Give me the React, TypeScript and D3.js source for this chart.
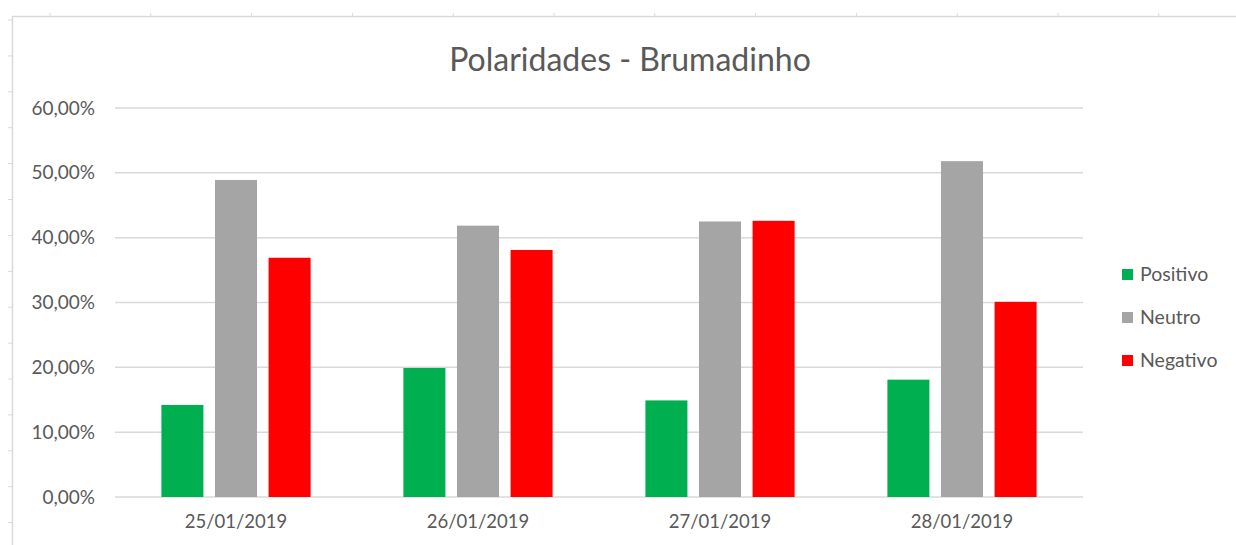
import React from "react";
import * as d3 from "d3";

const categories = ["25/01/2019", "26/01/2019", "27/01/2019", "28/01/2019"];
const seriesNames = ["Positivo", "Neutro", "Negativo"];
const positivo = [0.142, 0.199, 0.149, 0.181];
const neutro = [0.489, 0.4185, 0.425, 0.518];
const negativo = [0.369, 0.381, 0.426, 0.301];
const yTicks = [0, 0.1, 0.2, 0.3, 0.4, 0.5, 0.6];
const colors = ["#00B050", "#A5A5A5", "#FF0000"];

const W = 1236;
const H = 545;
const FONT = "Lato, Calibri, 'Open Sans', sans-serif";
const TEXT = "#595959";

export default function App() {
  const seriesValues = [positivo, neutro, negativo];
  const x0 = d3.scaleBand<string>().domain(categories).range([115, 1083]).paddingInner(0).paddingOuter(0);
  const groupW = 149.2;
  const x1 = d3.scaleBand<string>().domain(seriesNames).range([0, groupW]).paddingInner(0.216).paddingOuter(0);
  const groupOffset = (x0.bandwidth() - groupW) / 2;
  const y = d3.scaleLinear().domain([0, 0.6]).range([497, 108]);
  const fmt = (v: number) => (v * 100).toFixed(2).replace(".", ",") + "%";

  const topTicks = d3.range(50, W, 100.8);
  const leftTicks = d3.range(20, H, 35.9);

  return (
    <svg width={W} height={H} style={{ position: "absolute", left: 0, top: 0, background: "#fff" }}>
      <rect x={0} y={0} width={W} height={H} fill="#fff" />
      {/* sheet frame */}
      <line x1={12} x2={W} y1={16.5} y2={16.5} stroke="#d9d9d9" strokeWidth={1.5} />
      <line x1={12.5} x2={12.5} y1={16} y2={H} stroke="#d9d9d9" strokeWidth={1.5} />
      {topTicks.map((t, i) => (
        <line key={"tt" + i} x1={t} x2={t} y1={13} y2={16} stroke="#d9d9d9" />
      ))}
      {leftTicks.map((t, i) => (
        <line key={"lt" + i} x1={8} x2={12} y1={t} y2={t} stroke="#d9d9d9" />
      ))}
      {/* title */}
      <text x={630} y={71} textAnchor="middle" fontFamily={FONT} fontSize={32} fill={TEXT}>
        Polaridades - Brumadinho
      </text>
      {/* gridlines and y labels */}
      {yTicks.map((t) => (
        <g key={t}>
          <line x1={115} x2={1083} y1={y(t)} y2={y(t)} stroke="#d9d9d9" strokeWidth={1.5} />
          <text x={95} y={y(t)} dy="0.35em" textAnchor="end" fontFamily={FONT} fontSize={19} fill={TEXT}>
            {fmt(t)}
          </text>
        </g>
      ))}
      {/* bars */}
      {categories.map((c, ci) => (
        <g key={c} transform={`translate(${(x0(c) ?? 0) + groupOffset},0)`}>
          {seriesNames.map((s, si) => {
            const v = seriesValues[si][ci];
            return (
              <rect
                key={s}
                x={x1(s)}
                y={y(v)}
                width={x1.bandwidth()}
                height={y(0) - y(v)}
                fill={colors[si]}
              />
            );
          })}
        </g>
      ))}
      {/* x labels */}
      {categories.map((c) => (
        <text
          key={"xl" + c}
          x={(x0(c) ?? 0) + x0.bandwidth() / 2}
          y={522}
          dy="0.35em"
          textAnchor="middle"
          fontFamily={FONT}
          fontSize={18.5}
          fill={TEXT}
        >
          {c}
        </text>
      ))}
      {/* legend */}
      {seriesNames.map((s, i) => (
        <g key={"lg" + s} transform={`translate(1122,${274.5 + i * 43})`}>
          <rect x={0} y={-5.5} width={11} height={11} fill={colors[i]} />
          <text x={18} y={0} dy="0.35em" fontFamily={FONT} fontSize={19.5} fill={TEXT}>
            {s}
          </text>
        </g>
      ))}
    </svg>
  );
}
